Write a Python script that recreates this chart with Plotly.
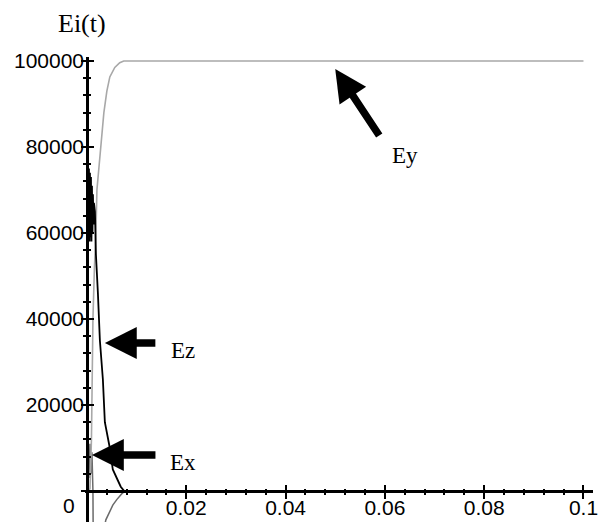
import plotly.graph_objects as go

# ---- data ----
t_ey = [0, 0.0006, 0.0009, 0.0012, 0.0015, 0.0018, 0.0020, 0.0026, 0.0030, 0.0034,
        0.0040, 0.0046, 0.0056, 0.0066, 0.0074, 0.1]
ey = [0, 500, 12000, 40000, 52000, 60000, 70000, 78000, 84000, 88000,
      93000, 96300, 98500, 99600, 100000, 100000]

t_ez = [0, 0.0001, 0.0002, 0.0003, 0.0004, 0.0005, 0.0006, 0.0007, 0.0008, 0.0009,
        0.0010, 0.0011, 0.0012, 0.0013, 0.0014, 0.0016, 0.0018,
        0.0022, 0.0026, 0.0032, 0.0036, 0.0046, 0.0052, 0.0062, 0.0068, 0.0075, 0.1]
ez = [0, 58000, 76000, 59000, 75000, 58000, 74000, 59000, 73000, 58000,
      71000, 60000, 69000, 62000, 67000, 65000, 55000,
      46000, 35000, 26000, 16000, 10000, 5000, 2500, 1000, 0, 0]

t_ex = [0, 0.0002, 0.0004, 0.0006, 0.0008, 0.0010, 0.0012, 0.0014, 0.0025, 0.0034,
        0.0038, 0.0045, 0.0052, 0.0060, 0.0066, 0.0072, 0.0080, 0.1]
ex = [0, 12000, 3000, 11000, 4000, 9000, 0, -40000, -30000, -9000,
      -6700, -5000, -3300, -2000, -1200, -400, 0, 0]

x_ticks = [0, 0.02, 0.04, 0.06, 0.08, 0.1]
x_ticktext = ["", "0.02", "0.04", "0.06", "0.08", "0.1"]
y_ticks = [0, 20000, 40000, 60000, 80000, 100000]
y_ticktext = ["", "20000", "40000", "60000", "80000", "100000"]
x_minor = [i * 0.004 for i in range(26) if i % 5 != 0]
y_minor = [i * 4000 for i in range(26) if i % 5 != 0]

x_range = [-0.0004, 0.10192]
y_range = [-7210, 100930]

# labels: (text, x, y)
labels = [("Ey", 0.064, 78140), ("Ez", 0.0193, 32790), ("Ex", 0.0193, 6740)]
# arrows: (tip x, tip y, tail offset x px, tail offset y px)
arrows = [(0.05, 98140, 45, 68), (0.0036, 34420, 52, 0), (0.001, 8370, 65, 0)]

xpos = (0 - y_range[0]) / (y_range[1] - y_range[0])
ypos = (0 - x_range[0]) / (x_range[1] - x_range[0])

# the page adds an 8px body margin, so the figure is laid out 8px smaller
W, H = 600, 514
ML, MR, MT, MB = 77, 15, 49, 0

fig = go.Figure()
fig.add_trace(go.Scatter(x=t_ex, y=ex, mode="lines", line=dict(color="#6a6a6a", width=1.5)))
fig.add_trace(go.Scatter(x=t_ey, y=ey, mode="lines", line=dict(color="#a8a8a8", width=1.6)))
fig.add_trace(go.Scatter(x=t_ez, y=ez, mode="lines", line=dict(color="black", width=1.8)))
fig.add_trace(go.Scatter(x=[None], y=[None], xaxis="x2", yaxis="y2", showlegend=False))

tickfont = dict(family="Liberation Sans, Arial, sans-serif", size=21, color="black")

fig.update_layout(
    width=W, height=H,
    margin=dict(l=ML, r=MR, t=MT, b=MB),
    paper_bgcolor="white", plot_bgcolor="white",
    showlegend=False,
    xaxis=dict(range=x_range, anchor="free", position=xpos, showgrid=False, zeroline=False,
               showline=True, linecolor="black", linewidth=2.5,
               tickmode="array", tickvals=x_ticks, ticktext=x_ticktext,
               ticks="outside", ticklen=6, tickwidth=1.5, tickcolor="black",
               minor=dict(tickvals=x_minor, ticks="outside", ticklen=2, tickwidth=1.5, tickcolor="black"),
               tickfont=tickfont, ticklabelstandoff=-9, automargin=False),
    yaxis=dict(range=y_range, anchor="free", position=ypos, showgrid=False, zeroline=False,
               showline=True, linecolor="black", linewidth=2.5,
               tickmode="array", tickvals=y_ticks, ticktext=y_ticktext,
               ticks="outside", ticklen=5, tickwidth=1.5, tickcolor="black",
               minor=dict(tickvals=y_minor, ticks="outside", ticklen=3, tickwidth=1.5, tickcolor="black"),
               tickfont=tickfont, ticklabelstandoff=-7, automargin=False),
    xaxis2=dict(range=x_range, overlaying="x", anchor="free", position=xpos, showgrid=False,
                zeroline=False, showline=False, showticklabels=False,
                tickmode="array", tickvals=x_ticks, ticks="inside", ticklen=6, tickwidth=1.5,
                tickcolor="black",
                minor=dict(tickvals=x_minor, ticks="inside", ticklen=2, tickwidth=1.5, tickcolor="black")),
    yaxis2=dict(range=y_range, overlaying="y", anchor="free", position=ypos, showgrid=False,
                zeroline=False, showline=False, showticklabels=False,
                tickmode="array", tickvals=y_ticks, ticks="inside", ticklen=6, tickwidth=1.5,
                tickcolor="black",
                minor=dict(tickvals=y_minor, ticks="inside", ticklen=3, tickwidth=1.5, tickcolor="black")),
)

serif = dict(family="Liberation Serif, Times New Roman, serif", size=23, color="black")
for txt, lx, ly in labels:
    fig.add_annotation(x=lx, y=ly, xref="x", yref="y", text=txt, showarrow=False, font=serif)

for tx, ty, ax, ay in arrows:
    fig.add_annotation(x=tx, y=ty, xref="x", yref="y", text="", showarrow=True,
                       ax=ax, ay=ay, arrowhead=2, arrowsize=0.85, arrowwidth=7.5, arrowcolor="black")

fig.add_annotation(x=0, y=0, xref="x", yref="y", text="0", showarrow=False, font=tickfont,
                   xanchor="right", yanchor="middle", xshift=-10, yshift=-14)

plot_w = W - ML - MR
plot_h = H - MT - MB
# title: centred horizontally at page x = 82, box top at the figure top
fig.add_annotation(x=(82 - 8 - ML) / plot_w, y=H / plot_h,
                   xref="paper", yref="paper", text="Ei(t)", showarrow=False,
                   xanchor="center", yanchor="top", borderpad=0,
                   font=dict(family="Liberation Serif, Times New Roman, serif", size=26, color="black"))

fig.write_html("out.html")
